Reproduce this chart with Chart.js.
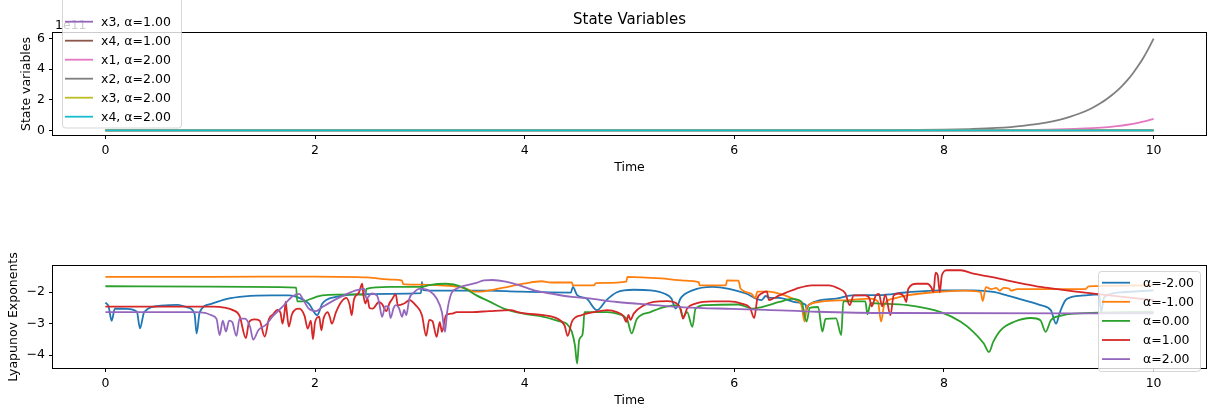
<!DOCTYPE html>
<html>
<head>
<meta charset="utf-8">
<script src="https://cdn.jsdelivr.net/npm/chart.js@4.4.0/dist/chart.umd.min.js"></script>
<style>
  html, body { margin: 0; padding: 0; background: #fff; }
  #wrap { position: relative; width: 1210px; height: 410px; overflow: hidden; }
  canvas { position: absolute; left: 0; }
  #stateChart { top: 0; }
  #lyapChart { top: 200px; }
</style>
</head>
<body>
<div id="wrap">
  <canvas id="stateChart" width="1210" height="200"></canvas>
  <canvas id="lyapChart" width="1210" height="210"></canvas>
</div>
<script>
// ---- axes ----
const timeTicks = [0, 2, 4, 6, 8, 10];
const stateTicks = [0, 2, 4, 6];
const lyapTicks = [-4, -3, -2];

// ---- state variables (values in units of 1e11) ----
const stateLabels = ['x3, α=1.00', 'x4, α=1.00', 'x1, α=2.00', 'x2, α=2.00', 'x3, α=2.00', 'x4, α=2.00'];
const stateColors = ['#9467bd', '#8c564b', '#e377c2', '#7f7f7f', '#bcbd22', '#17becf'];
const x3a1 = [[0, 0], [10, 0]];
const x4a1 = [[0, 0], [10, 0]];
const x1a2 = [[0, 0], [8.5, 0.01], [9.0, 0.05], [9.25, 0.1], [9.5, 0.18], [9.65, 0.28], [9.75, 0.37], [9.85, 0.49], [9.9, 0.57], [9.95, 0.66], [10, 0.76]];
const x2a2 = [[0, 0], [7.0, 0.0], [7.5, 0.01], [8.0, 0.05], [8.25, 0.09], [8.5, 0.16], [8.75, 0.3], [9.0, 0.54],
  [9.1, 0.69], [9.2, 0.88], [9.3, 1.12], [9.4, 1.42], [9.5, 1.81], [9.55, 2.04], [9.6, 2.3], [9.65, 2.59], [9.7, 2.92],
  [9.75, 3.29], [9.8, 3.71], [9.85, 4.19], [9.9, 4.72], [9.95, 5.33], [10, 6.0]];
const x3a2 = [[0, 0], [10, 0]];
const x4a2 = [[0, 0], [10, 0]];

// ---- lyapunov exponents ----
const alphaLabels = ['α=-2.00', 'α=-1.00', 'α=0.00', 'α=1.00', 'α=2.00'];
const alphaColors = ['#1f77b4', '#ff7f0e', '#2ca02c', '#d62728', '#9467bd'];
const lyapM2 = [[0, -2.33], [0.03, -2.45], [0.06, -2.91], [0.09, -2.52], [0.2, -2.53], [0.3, -2.62], [0.33, -3.15], [0.37, -2.63],
  [0.53, -2.43], [0.69, -2.4], [0.78, -2.48], [0.85, -2.68], [0.87, -3.31], [0.9, -2.63], [1.01, -2.37], [1.16, -2.21],
  [1.33, -2.13], [1.58, -2.1], [1.75, -2.1], [1.8, -2.12], [1.94, -2.36], [2.02, -2.73], [2.07, -2.36], [2.2, -2.15],
  [2.39, -2.07], [2.71, -2.05], [3.01, -2.03], [3.02, -1.67], [3.03, -1.93], [3.18, -1.95], [3.66, -1.95], [3.93, -1.98],
  [4.44, -2.01], [4.46, -1.83], [4.5, -2.09], [4.59, -2.2], [4.69, -2.57], [4.78, -2.25], [4.88, -2.0], [5.04, -1.92],
  [5.2, -1.94], [5.33, -2.04], [5.4, -2.2], [5.44, -2.52], [5.49, -2.18], [5.6, -1.94], [5.79, -1.83], [5.95, -1.89],
  [6.11, -2.04], [6.26, -2.25], [6.3, -2.12], [6.33, -2.17], [6.43, -2.18], [6.59, -2.32], [6.68, -2.4], [6.69, -2.55],
  [6.71, -2.4], [6.97, -2.2], [7.12, -2.1], [7.38, -2.09], [7.65, -2.0], [7.97, -1.94], [8.28, -1.94], [8.47, -1.99],
  [8.6, -2.1], [8.76, -2.25], [8.92, -2.41], [9.02, -2.57], [9.07, -3.0], [9.1, -2.7], [9.12, -2.52], [9.16, -2.25],
  [9.22, -2.15], [9.35, -2.1], [9.48, -2.07], [9.5, -2.62], [9.53, -2.15], [9.7, -2.0], [10, -1.94]];
const lyapM1 = [[0, -1.51], [1, -1.51], [2, -1.5], [2.5, -1.53], [2.75, -1.6], [2.83, -1.63], [2.84, -1.74], [3.0, -1.76],
  [3.2, -1.78], [3.37, -1.83], [3.45, -1.9], [3.52, -1.98], [3.61, -1.97], [3.8, -1.85], [4.0, -1.72], [4.16, -1.65],
  [4.25, -1.69], [4.45, -1.69], [4.46, -1.78], [4.66, -1.78], [4.68, -1.71], [4.97, -1.66], [4.98, -1.51], [5.3, -1.56],
  [5.52, -1.63], [5.66, -1.68], [5.67, -1.78], [5.92, -1.78], [5.93, -1.62], [6.04, -1.63], [6.06, -1.89], [6.16, -2.04],
  [6.2, -2.18], [6.22, -1.98], [6.33, -1.98], [6.43, -2.05], [6.59, -2.25], [6.64, -2.4], [6.67, -2.93], [6.69, -2.5],
  [6.71, -2.41], [6.83, -2.3], [7.09, -2.25], [7.3, -2.2], [7.37, -2.3], [7.4, -2.93], [7.43, -2.4], [7.52, -2.2],
  [7.65, -2.1], [7.9, -2.0], [8.2, -1.95], [8.35, -2.0], [8.37, -2.28], [8.4, -1.84], [8.45, -1.9], [8.5, -1.86],
  [8.53, -1.95], [8.57, -1.86], [8.62, -1.88], [8.64, -1.95], [8.7, -1.9], [9.35, -1.9], [9.38, -1.81], [10, -1.78]];
const lyap0 = [[0, -1.81], [1, -1.82], [1.82, -1.85], [1.83, -2.29], [1.88, -2.29], [2.0, -2.16], [2.07, -2.1], [2.39, -2.07],
  [2.48, -2.08], [2.49, -1.89], [2.71, -1.83], [3.02, -1.83], [3.09, -1.77], [3.25, -1.73], [3.4, -1.83], [3.54, -2.1],
  [3.66, -2.29], [3.8, -2.52], [3.99, -2.68], [4.18, -2.78], [4.35, -2.94], [4.4, -3.0], [4.45, -3.26], [4.48, -3.7],
  [4.5, -4.27], [4.52, -3.52], [4.55, -3.36], [4.56, -3.1], [4.57, -2.63], [4.79, -2.63], [4.88, -2.68], [4.98, -2.89],
  [5.02, -3.31], [5.07, -2.85], [5.2, -2.63], [5.33, -2.47], [5.47, -2.41], [5.51, -2.78], [5.55, -2.63], [5.6, -3.1],
  [5.63, -2.52], [5.73, -2.41], [6.04, -2.39], [6.17, -2.52], [6.26, -2.47], [6.43, -2.31], [6.55, -2.21], [6.64, -2.3],
  [6.69, -2.93], [6.72, -2.5], [6.8, -2.47], [6.84, -3.25], [6.87, -2.85], [6.97, -2.83], [7.02, -3.36], [7.04, -2.29],
  [7.25, -2.29], [7.27, -2.7], [7.3, -2.35], [7.38, -2.36], [7.65, -2.41], [7.97, -2.63], [8.16, -2.94], [8.28, -3.26],
  [8.38, -3.63], [8.43, -3.9], [8.47, -3.58], [8.54, -3.21], [8.67, -2.94], [8.83, -2.82], [8.92, -2.89], [8.97, -3.26],
  [9.02, -2.89], [9.11, -2.75], [9.24, -2.68], [10, -2.63]];
const lyap1 = [[0, -2.46], [1.02, -2.46], [1.15, -2.5], [1.21, -2.56], [1.28, -2.75], [1.34, -3.46], [1.37, -2.95], [1.42, -2.86],
  [1.47, -2.9], [1.52, -3.41], [1.56, -2.85], [1.6, -2.7], [1.64, -2.56], [1.67, -2.65], [1.69, -3.0], [1.71, -2.6],
  [1.72, -2.3], [1.73, -2.6], [1.75, -3.09], [1.78, -2.7], [1.85, -2.52], [1.9, -2.75], [1.93, -3.16], [1.96, -2.9],
  [1.98, -3.49], [2.0, -2.95], [2.04, -2.78], [2.06, -3.21], [2.08, -2.85], [2.12, -2.63], [2.14, -2.78], [2.16, -3.0],
  [2.2, -2.63], [2.25, -2.31], [2.3, -2.18], [2.33, -2.4], [2.35, -2.73], [2.37, -2.25], [2.42, -2.0], [2.45, -1.73],
  [2.46, -2.05], [2.48, -2.36], [2.5, -2.2], [2.52, -2.5], [2.55, -2.52], [2.61, -2.31], [2.64, -2.38], [2.68, -2.6],
  [2.71, -2.35], [2.73, -2.25], [2.77, -2.07], [2.79, -2.42], [2.85, -2.36], [2.9, -2.25], [2.96, -2.41], [3.02, -2.73],
  [3.06, -3.39], [3.09, -2.88], [3.12, -2.92], [3.16, -3.42], [3.19, -2.95], [3.21, -3.26], [3.25, -2.73], [3.31, -2.68],
  [3.35, -2.63], [3.5, -2.63], [3.66, -2.6], [3.87, -2.57], [3.93, -2.63], [4.02, -2.68], [4.18, -2.73], [4.31, -2.84],
  [4.38, -3.05], [4.41, -3.39], [4.45, -2.94], [4.54, -2.73], [4.66, -2.63], [4.79, -2.57], [4.88, -2.63], [4.94, -2.75],
  [4.97, -2.94], [4.99, -2.72], [5.01, -2.88], [5.04, -2.68], [5.14, -2.41], [5.23, -2.31], [5.36, -2.28], [5.45, -2.36],
  [5.49, -2.55], [5.51, -2.84], [5.55, -2.52], [5.63, -2.36], [5.79, -2.29], [5.95, -2.29], [6.07, -2.36], [6.15, -2.5],
  [6.19, -2.82], [6.22, -2.2], [6.26, -2.04], [6.31, -1.97], [6.33, -2.25], [6.37, -2.2], [6.43, -2.1], [6.59, -1.89],
  [6.74, -1.78], [6.9, -1.78], [7.0, -1.89], [7.06, -2.04], [7.1, -2.41], [7.14, -2.1], [7.25, -2.1], [7.29, -2.2],
  [7.31, -2.45], [7.35, -2.1], [7.38, -2.05], [7.41, -2.45], [7.44, -2.08], [7.49, -2.73], [7.52, -2.1], [7.57, -2.04],
  [7.62, -2.15], [7.64, -2.31], [7.66, -1.89], [7.74, -1.73], [7.84, -1.73], [7.88, -1.85], [7.9, -1.99], [7.92, -1.38],
  [7.94, -1.45], [7.96, -2.0], [7.98, -1.46], [8.03, -1.3], [8.16, -1.3], [8.28, -1.41], [8.45, -1.51], [8.6, -1.62],
  [8.76, -1.73], [8.92, -1.83], [9.08, -1.9], [9.24, -1.97], [9.45, -2.05], [10, -2.25]];
const lyap2 = [[0, -2.63], [0.85, -2.63], [0.95, -2.66], [1.01, -2.73], [1.06, -2.85], [1.09, -3.36], [1.12, -2.9], [1.15, -3.25],
  [1.18, -2.9], [1.21, -2.95], [1.25, -3.39], [1.28, -2.84], [1.33, -2.84], [1.38, -3.1], [1.41, -3.51], [1.46, -3.2],
  [1.53, -3.04], [1.6, -2.75], [1.69, -2.46], [1.78, -2.14], [1.85, -2.05], [1.88, -2.2], [1.94, -2.52], [2.01, -2.6],
  [2.07, -2.47], [2.23, -2.17], [2.39, -1.94], [2.47, -1.89], [2.49, -2.2], [2.54, -2.04], [2.59, -2.1], [2.61, -2.31],
  [2.64, -2.78], [2.67, -2.45], [2.7, -2.45], [2.72, -2.82], [2.75, -2.5], [2.77, -2.41], [2.8, -2.5], [2.83, -2.78],
  [2.85, -2.56], [2.87, -2.73], [2.9, -2.2], [2.95, -1.99], [2.99, -1.89], [3.02, -1.89], [3.09, -1.95], [3.16, -2.2],
  [3.21, -2.63], [3.24, -3.26], [3.26, -2.63], [3.3, -2.04], [3.35, -1.89], [3.44, -1.78], [3.54, -1.7], [3.61, -1.62],
  [3.69, -1.61], [3.82, -1.66], [3.93, -1.76], [4.09, -1.94], [4.25, -2.04], [4.45, -2.15], [4.59, -2.19], [4.88, -2.31],
  [5.2, -2.4], [5.52, -2.48], [5.98, -2.53], [6.3, -2.56], [6.78, -2.62], [7.5, -2.66], [10, -2.67]];

const FONT = 'DejaVu Sans';
Chart.defaults.font.family = FONT;
Chart.defaults.color = '#000';

document.addEventListener('DOMContentLoaded', function() {
    drawStateChart();
    drawLyapChart();
});

function toPoints(pairs) {
    return pairs.map(p => ({ x: p[0], y: p[1] }));
}

// later series on top, like matplotlib
function lineDatasets(seriesList, colors) {
    return seriesList.map((s, i) => ({
        data: toPoints(s),
        borderColor: colors[i],
        borderWidth: 1.8,
        pointRadius: 0,
        cubicInterpolationMode: 'monotone',
        fill: false,
        order: seriesList.length - i
    }));
}

function minusSign(v) {
    return String(v).replace('-', '\u2212');
}

function buildScales(cfg) {
    const tickFont = { family: FONT, size: 12.5 };
    const tickGrid = { display: true, drawOnChartArea: false, drawTicks: true, tickLength: 4, tickColor: '#000', tickWidth: 1 };
    return {
        x: {
            type: 'linear', min: -0.5, max: 10.5,
            afterBuildTicks: s => { s.ticks = timeTicks.map(v => ({ value: v })); },
            afterFit: s => { s.height = cfg.xHeight; },
            grid: tickGrid,
            border: { display: false },
            ticks: { font: tickFont, padding: 4, maxRotation: 0, autoSkip: false, callback: minusSign },
            title: { display: true, text: 'Time', font: tickFont, padding: { top: 0, bottom: cfg.xTitlePad } }
        },
        y: {
            type: 'linear', min: cfg.yMin, max: cfg.yMax,
            afterBuildTicks: s => { s.ticks = cfg.yTicks.map(v => ({ value: v })); },
            afterFit: s => { s.width = 53; },
            grid: tickGrid,
            border: { display: false },
            ticks: { font: tickFont, padding: 4, autoSkip: false, callback: minusSign },
            title: { display: true, text: cfg.yTitle, font: tickFont, padding: { top: cfg.yTitlePad, bottom: 0 } }
        }
    };
}

// black box around the plot area
const framePlugin = {
    id: 'frame',
    afterDatasetsDraw(chart) {
        const { ctx, chartArea: a } = chart;
        ctx.save();
        ctx.strokeStyle = '#000';
        ctx.lineWidth = 1;
        ctx.strokeRect(a.left - 0.5, a.top - 0.5, a.width + 1, a.height + 1);
        ctx.restore();
    }
};

function roundRect(ctx, x, y, w, h, r) {
    ctx.beginPath();
    ctx.moveTo(x + r, y);
    ctx.lineTo(x + w - r, y);
    ctx.quadraticCurveTo(x + w, y, x + w, y + r);
    ctx.lineTo(x + w, y + h - r);
    ctx.quadraticCurveTo(x + w, y + h, x + w - r, y + h);
    ctx.lineTo(x + r, y + h);
    ctx.quadraticCurveTo(x, y + h, x, y + h - r);
    ctx.lineTo(x, y + r);
    ctx.quadraticCurveTo(x, y, x + r, y);
    ctx.closePath();
}

// matplotlib-like legend box, place(chartArea) gives its geometry
function boxLegend(labels, colors, place, extraText) {
    return {
        id: 'boxLegend',
        afterDraw(chart) {
            const ctx = chart.ctx;
            const a = chart.chartArea;
            if (extraText) extraText(ctx, a);
            const b = place(a);
            ctx.save();
            roundRect(ctx, b.x + 0.5, b.y + 0.5, b.w, b.h, 3);
            ctx.fillStyle = 'rgba(255,255,255,0.8)';
            ctx.fill();
            ctx.strokeStyle = 'rgba(204,204,204,0.8)';
            ctx.lineWidth = 1;
            ctx.stroke();
            ctx.font = '12.5px "' + FONT + '"';
            ctx.textBaseline = 'middle';
            labels.forEach((lab, i) => {
                const y = b.row0 + i * b.rowH;
                ctx.strokeStyle = colors[i];
                ctx.lineWidth = 1.8;
                ctx.beginPath();
                ctx.moveTo(b.lineX, y);
                ctx.lineTo(b.lineX + 28, y);
                ctx.stroke();
                ctx.fillStyle = '#000';
                ctx.fillText(lab, b.textX, y + 1);
            });
            ctx.restore();
        }
    };
}

function drawStateChart() {
    const ctx = document.getElementById('stateChart');
    const series = [x3a1, x4a1, x1a2, x2a2, x3a2, x4a2];

    const titleAndOffset = (c, a) => {
        c.save();
        c.fillStyle = '#000';
        c.font = '15px "' + FONT + '"';
        c.textAlign = 'center';
        c.textBaseline = 'middle';
        c.fillText('State Variables', a.left + a.width / 2, 20);
        c.font = '12.5px "' + FONT + '"';
        c.textAlign = 'left';
        c.fillText('1e11', a.left + 2, a.top - 7);
        c.restore();
    };

    new Chart(ctx, {
        type: 'line',
        data: { datasets: lineDatasets(series, stateColors) },
        options: {
            responsive: false,
            animation: false,
            devicePixelRatio: 1,
            layout: { padding: { left: 0, right: 4, top: 33, bottom: 0 } },
            plugins: { legend: { display: false }, tooltip: { enabled: false } },
            scales: buildScales({ xHeight: 65, xTitlePad: 25, yMin: -0.3, yMax: 6.37, yTicks: stateTicks, yTitle: 'State variables', yTitlePad: 19 })
        },
        plugins: [framePlugin, boxLegend(stateLabels, stateColors, a => ({
            x: a.left + 9, y: -300, w: 119, h: 300 + a.bottom - 7.5,
            row0: a.bottom - 18.3 - 5 * 19, rowH: 19, lineX: a.left + 12, textX: a.left + 48
        }), titleAndOffset)]
    });
}

function drawLyapChart() {
    const ctx = document.getElementById('lyapChart');
    const series = [lyapM2, lyapM1, lyap0, lyap1, lyap2];

    new Chart(ctx, {
        type: 'line',
        data: { datasets: lineDatasets(series, alphaColors) },
        options: {
            responsive: false,
            animation: false,
            devicePixelRatio: 1,
            layout: { padding: { left: 0, right: 4, top: 66, bottom: 0 } },
            plugins: { legend: { display: false }, tooltip: { enabled: false } },
            scales: buildScales({ xHeight: 42, xTitlePad: 2, yMin: -4.41, yMax: -1.165, yTicks: lyapTicks, yTitle: 'Lyapunov Exponents', yTitlePad: 6 })
        },
        plugins: [framePlugin, boxLegend(alphaLabels, alphaColors, a => ({
            x: a.right - 108, y: a.top + 5, w: 102, h: 100,
            row0: a.top + 16.7, rowH: 19.1, lineX: a.right - 104, textX: a.right - 63
        }))]
    });
}
</script>
</body>
</html>
